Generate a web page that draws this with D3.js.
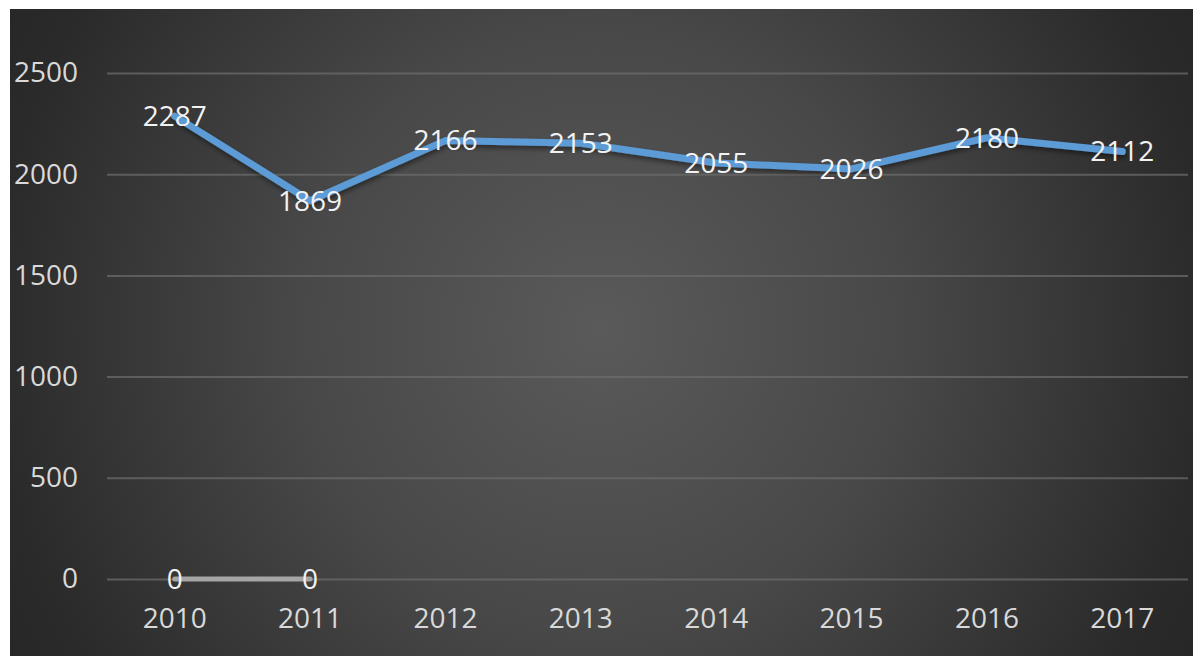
<!DOCTYPE html>
<html>
<head>
<meta charset="utf-8">
<script src="https://cdn.jsdelivr.net/npm/d3@7"></script>
<style>
  html, body { margin: 0; padding: 0; background: #ffffff; }
  svg { display: block; }
</style>
</head>
<body>
<script>
// Yearly totals
const years = ["2010", "2011", "2012", "2013", "2014", "2015", "2016", "2017"];
const totals = [2287, 1869, 2166, 2153, 2055, 2026, 2180, 2112];
// Secondary series, only present for the first two years
const secondYears = ["2010", "2011"];
const secondValues = [0, 0];
const yTicks = [0, 500, 1000, 1500, 2000, 2500];

const W = 1193, H = 656;
const panel = { x: 10, y: 9, w: W - 10, h: H - 9 };
const plot = { left: 107, right: 1190, top: 73, bottom: 579 };
const font = "'Open Sans', 'Noto Sans', sans-serif";
const fontSize = 28;

const svg = d3.select("body").append("svg")
  .attr("width", W).attr("height", H);

const defs = svg.append("defs");
const grad = defs.append("radialGradient")
  .attr("id", "bg")
  .attr("gradientUnits", "userSpaceOnUse")
  .attr("cx", 600).attr("cy", 330).attr("r", 720);
grad.append("stop").attr("offset", 0).attr("stop-color", "#5a5a5a");
grad.append("stop").attr("offset", 0.42).attr("stop-color", "#484848");
grad.append("stop").attr("offset", 0.85).attr("stop-color", "#2a2a2a");
grad.append("stop").attr("offset", 1).attr("stop-color", "#252525");

const shadow = defs.append("filter").attr("id", "lineShadow")
  .attr("x", "-5%").attr("y", "-20%").attr("width", "110%").attr("height", "160%");
shadow.append("feDropShadow")
  .attr("dx", 1).attr("dy", 3).attr("stdDeviation", 2.5)
  .attr("flood-color", "#000").attr("flood-opacity", 0.45);

svg.append("rect")
  .attr("x", panel.x).attr("y", panel.y)
  .attr("width", panel.w).attr("height", panel.h)
  .attr("fill", "url(#bg)");

const x = d3.scaleBand().domain(years).range([plot.left, plot.right]);
const y = d3.scaleLinear().domain([0, 2500]).range([plot.bottom, plot.top]);
const cx = d => x(d) + x.bandwidth() / 2;

// Horizontal gridlines with value labels
const yAxis = d3.axisLeft(y).tickValues(yTicks).tickFormat(d3.format("d"))
  .tickSize(-(1188 - plot.left)).tickPadding(29);
const gy = svg.append("g").attr("transform", `translate(${plot.left},0)`).call(yAxis);
gy.select(".domain").remove();
gy.selectAll(".tick line").attr("stroke", "#6b6b6b").attr("stroke-opacity", 0.75).attr("stroke-width", 2);
gy.selectAll(".tick text")
  .attr("fill", "#d9d9d9").attr("font-family", font).attr("font-size", fontSize);

// Category labels
const xAxis = d3.axisBottom(x).tickSize(0).tickPadding(29);
const gx = svg.append("g").attr("transform", `translate(0,${plot.bottom})`).call(xAxis);
gx.select(".domain").remove();
gx.selectAll(".tick text")
  .attr("fill", "#d9d9d9").attr("font-family", font).attr("font-size", fontSize);

// Secondary (grey) series
const line = d3.line().x(d => cx(d.year)).y(d => y(d.value));
const second = secondYears.map((yr, i) => ({ year: yr, value: secondValues[i] }));
svg.append("path").datum(second)
  .attr("d", line)
  .attr("fill", "none").attr("stroke", "#a5a5a5")
  .attr("stroke-width", 5).attr("stroke-linecap", "round");

// Main (blue) series
const main = years.map((yr, i) => ({ year: yr, value: totals[i] }));
svg.append("path").datum(main)
  .attr("d", line)
  .attr("fill", "none").attr("stroke", "#5b9bd5")
  .attr("stroke-width", 7).attr("stroke-linecap", "round")
  .attr("stroke-linejoin", "round")
  .attr("filter", "url(#lineShadow)");

// Value labels, centred on each point
function labels(data) {
  svg.append("g").selectAll("text").data(data).join("text")
    .attr("x", d => cx(d.year))
    .attr("y", d => y(d.value))
    .attr("dy", "0.35em")
    .attr("text-anchor", "middle")
    .attr("fill", "#f2f2f2")
    .attr("font-family", font).attr("font-size", fontSize)
    .text(d => d.value);
}
labels(second);
labels(main);
</script>
</body>
</html>
